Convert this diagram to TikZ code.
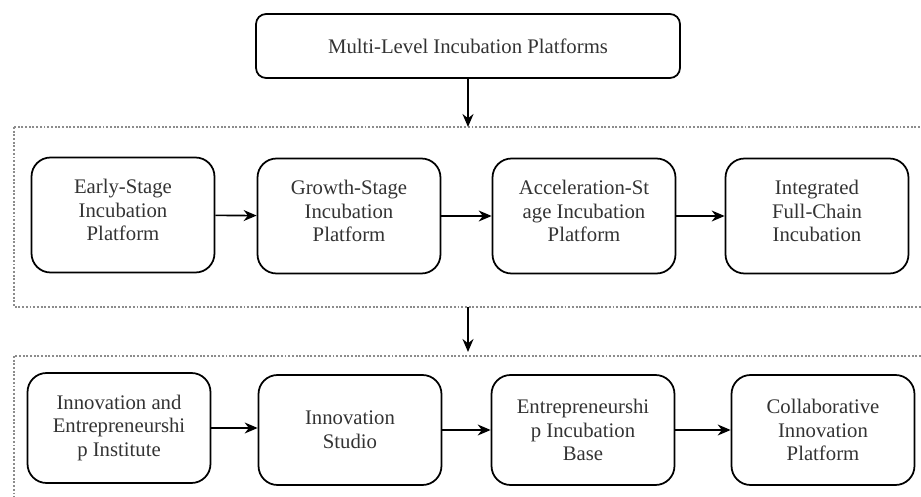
\documentclass[tikz,border=0pt]{standalone}
\usepackage{fontspec}
\setmainfont{Liberation Serif}
\newfontfamily\boxfont{Liberation Serif}
\usepackage{tikz}
\usetikzlibrary{arrows.meta}
\definecolor{framegray}{rgb}{0.55,0.55,0.55}
\definecolor{textgray}{rgb}{0.2,0.2,0.2}

\tikzset{
  stagebox/.style={draw, line width=1pt, rounded corners=0.38cm, align=center,
    minimum width=3.66cm, minimum height=2.3cm, inner sep=2pt, text=textgray,
    font=\boxfont\fontsize{11.8}{13.4}\selectfont},
  flow/.style={-{Stealth[length=2.6mm,width=2.2mm]}, line width=0.9pt},
  levelframe/.style={framegray, densely dotted, line width=1.1pt}
}

\begin{document}
\begin{tikzpicture}[x=0.02cm, y=-0.02cm]
			\useasboundingbox (0,0) rectangle (921,497);
			% dotted frames round the two rows
			\draw[levelframe] (14,127) rectangle (940,307);
			\draw[levelframe] (14,356) rectangle (940,520);
			% top node
			\node[stagebox, rounded corners=0.2cm, minimum width=8.48cm, minimum height=1.28cm] (multi) at (468,46) {Multi-Level Incubation Platforms};
			\coordinate (frameA) at (468,127);
			\coordinate (frameAbot) at (468,307);
			\coordinate (frameB) at (468,352);
			% first row
			\begin{scope}[every node/.append style={text depth=0.2cm}]
			\node[stagebox] (early) at (123,215) {Early-Stage\\Incubation\\Platform};
			\node[stagebox] (growth) at (349,216) {Growth-Stage\\Incubation\\Platform};
			\node[stagebox] (accel) at (584,216) {Acceleration-St\\age Incubation\\Platform};
			\node[stagebox] (chain) at (817,216) {Integrated\\Full-Chain\\Incubation};
			\end{scope}
			% second row
			\node[stagebox, minimum height=2.2cm] (institute) at (119,428) {Innovation and\\Entrepreneurshi\\p Institute};
			\node[stagebox, minimum height=2.2cm] (studio) at (350,430) {Innovation\\Studio};
			\node[stagebox, minimum height=2.2cm] (base) at (583,430) {Entrepreneurshi\\p Incubation\\Base};
			\node[stagebox, minimum height=2.2cm] (collab) at (823,430) {Collaborative\\Innovation\\Platform};
			% arrows
			\draw[flow] (multi) -- (frameA);
			\draw[flow] (frameAbot) -- (frameB);
			\draw[flow] (early) -- (growth);
			\draw[flow] (growth) -- (accel);
			\draw[flow] (accel) -- (chain);
			\draw[flow] (institute.east) -- (studio.west |- institute.east);
			\draw[flow] (studio) -- (base);
			\draw[flow] (base) -- (collab);
		\end{tikzpicture}
\end{document}
